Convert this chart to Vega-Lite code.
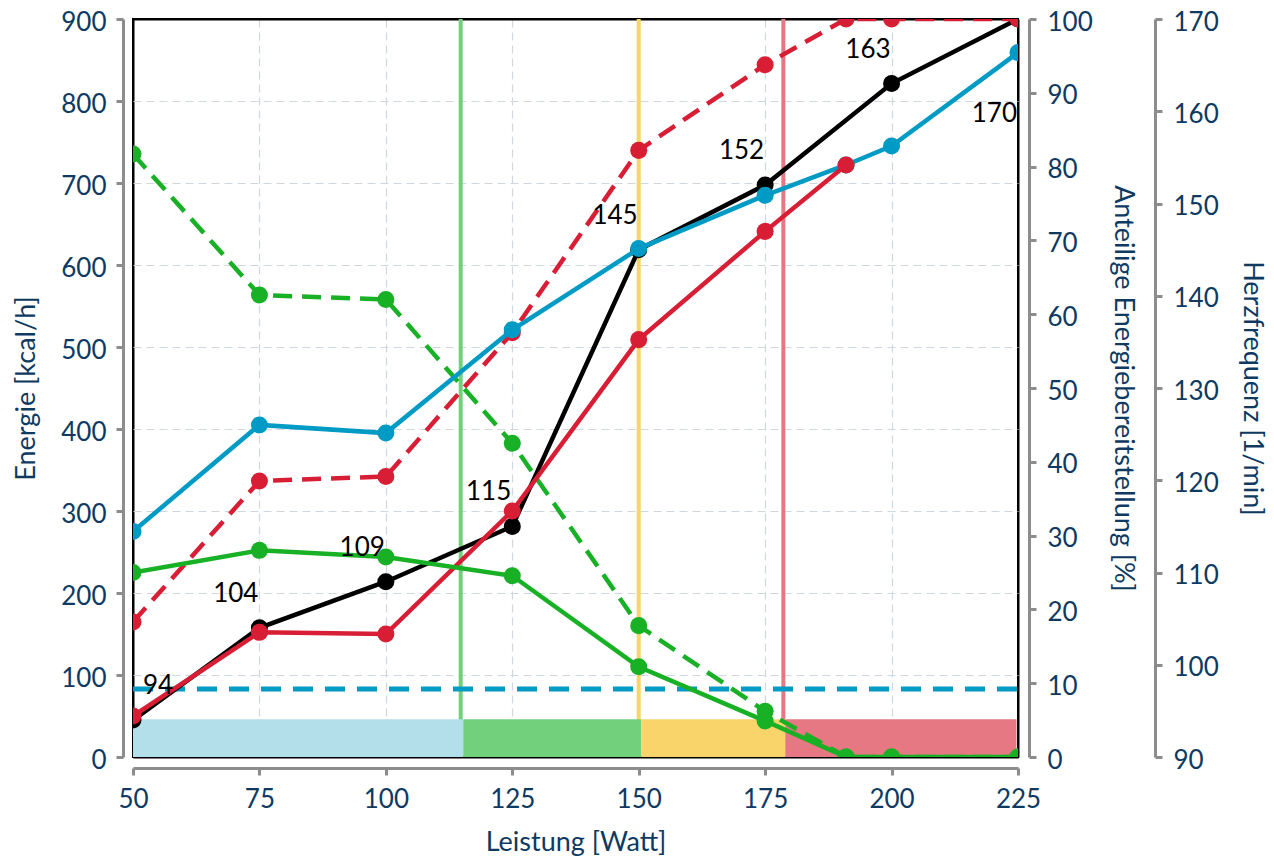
{
  "$schema": "https://vega.github.io/schema/vega-lite/v6.json",
  "width": 885,
  "height": 738,
  "autosize": {"type": "none"},
  "padding": {"left": 133, "top": 19, "right": 256, "bottom": 104},
  "background": "white",
  "config": {
    "view": {"stroke": "black", "strokeWidth": 2},
    "font": "Lato",
    "axis": {
      "domainColor": "#8c8c8c", "domainWidth": 3,
      "tickColor": "#8c8c8c", "tickWidth": 3, "tickSize": 7,
      "labelFont": "Lato", "labelFontSize": 26, "labelColor": "#0e3a62",
      "titleFont": "Lato", "titleFontSize": 27, "titleColor": "#0e3a62", "titleFontWeight": "normal",
      "gridColor": "#cfd7e1", "gridDash": [8, 5], "gridWidth": 1.2,
      "labelOverlap": false, "labelFlush": false
    }
  },
  "datasets": {
    "energie": [
      {"w": 50, "gesamt": 275, "kh": 50, "fett": 225},
      {"w": 75, "gesamt": 405, "kh": 152, "fett": 252},
      {"w": 100, "gesamt": 395, "kh": 150, "fett": 244},
      {"w": 125, "gesamt": 521, "kh": 300, "fett": 221},
      {"w": 150, "gesamt": 620, "kh": 509, "fett": 110},
      {"w": 175, "gesamt": 685, "kh": 641, "fett": 44},
      {"w": 191, "gesamt": 722, "kh": 722, "fett": 0},
      {"w": 200, "gesamt": 745, "kh": null, "fett": 0},
      {"w": 225, "gesamt": 859, "kh": null, "fett": 0}
    ],
    "anteil": [
      {"w": 50, "kh_pct": 18.3, "fett_pct": 81.7},
      {"w": 75, "kh_pct": 37.4, "fett_pct": 62.6},
      {"w": 100, "kh_pct": 38.0, "fett_pct": 62.0},
      {"w": 125, "kh_pct": 57.5, "fett_pct": 42.5},
      {"w": 150, "kh_pct": 82.2, "fett_pct": 17.8},
      {"w": 175, "kh_pct": 93.8, "fett_pct": 6.2},
      {"w": 191, "kh_pct": 100, "fett_pct": 0},
      {"w": 200, "kh_pct": 100, "fett_pct": 0},
      {"w": 225, "kh_pct": 100, "fett_pct": 0}
    ],
    "hf": [
      {"w": 50, "hf": 94},
      {"w": 75, "hf": 104},
      {"w": 100, "hf": 109},
      {"w": 125, "hf": 115},
      {"w": 150, "hf": 145},
      {"w": 175, "hf": 152},
      {"w": 200, "hf": 163},
      {"w": 225, "hf": 170}
    ],
    "zonen": [
      {"w": 50, "w2": 115.3, "zone": "1"},
      {"w": 115.3, "w2": 150.5, "zone": "2"},
      {"w": 150.5, "w2": 179, "zone": "3"},
      {"w": 179, "w2": 224.7, "zone": "4"}
    ],
    "schwellen": [
      {"w": 114.8, "zone": "2"},
      {"w": 150, "zone": "3"},
      {"w": 178.6, "zone": "4"}
    ],
    "grund": [
      {"w": 50, "w2": 225, "kcal": 83}
    ]
  },
  "resolve": {"scale": {"y": "independent"}},
  "encoding": {
    "x": {
      "field": "w", "type": "quantitative",
      "scale": {"domain": [50, 225], "nice": false, "zero": false},
      "axis": {
        "values": [50, 75, 100, 125, 150, 175, 200, 225], "offset": 11, "labelPadding": 11, "titlePadding": 17, "title": "Leistung [Watt]", "grid": true,
        "gridColor": {"condition": {"test": "datum.value == 50 || datum.value == 225", "value": "black"}, "value": "#cfd7e1"},
        "gridDash": {"condition": {"test": "datum.value == 50 || datum.value == 225", "value": [1, 0]}, "value": [8, 5]},
        "gridWidth": {"condition": {"test": "datum.value == 50 || datum.value == 225", "value": 2}, "value": 1.2}
      }
    }
  },
  "layer": [
    {
      "data": {"name": "schwellen"},
      "mark": {"type": "rule", "strokeWidth": 4, "clip": true},
      "encoding": {
        "color": {"field": "zone", "type": "nominal", "scale": {"domain": ["1", "2", "3", "4"], "range": ["#b2dfea", "#72d07c", "#f8d46a", "#e57882"]}, "legend": null}
      }
    },
    {
      "data": {"name": "zonen"},
      "mark": {"type": "rect", "clip": true},
      "encoding": {
        "x2": {"field": "w2"},
        "y": {"datum": 0, "type": "quantitative", "scale": {"domain": [0, 900], "nice": false}, "axis": null},
        "y2": {"datum": 46},
        "color": {"field": "zone", "type": "nominal", "scale": {"domain": ["1", "2", "3", "4"], "range": ["#b2dfea", "#72d07c", "#f8d46a", "#e57882"]}, "legend": null}
      }
    },
    {
      "data": {"name": "grund"},
      "mark": {"type": "rule", "strokeWidth": 5, "strokeDash": [20, 12], "color": "#009bc4", "clip": true},
      "encoding": {
        "x2": {"field": "w2"},
        "y": {"field": "kcal", "type": "quantitative", "scale": {"domain": [0, 900], "nice": false}, "axis": null}
      }
    },
    {
      "data": {"name": "hf"},
      "encoding": {
        "y": {"field": "hf", "type": "quantitative", "scale": {"domain": [90, 170], "nice": false, "zero": false},
          "axis": {"orient": "right", "offset": 137, "values": [90, 100, 110, 120, 130, 140, 150, 160, 170], "title": "Herzfrequenz [1/min]", "grid": false, "labelPadding": 11, "titlePadding": 19, "labelOffset": 3}}
      },
      "layer": [
        {"mark": {"type": "line", "strokeWidth": 4.5, "color": "black", "clip": true}},
        {"mark": {"type": "point", "filled": true, "opacity": 1, "size": 290, "color": "black", "clip": true}}
      ]
    },
    {
      "data": {"name": "anteil"},
      "encoding": {
        "y": {"field": "kh_pct", "type": "quantitative", "scale": {"domain": [0, 100], "nice": false},
          "axis": {"orient": "right", "offset": 11, "values": [0, 10, 20, 30, 40, 50, 60, 70, 80, 90, 100], "title": "Anteilige Energiebereitstellung [%]", "grid": false, "labelPadding": 11, "titlePadding": 16, "labelOffset": 3}}
      },
      "layer": [
        {"mark": {"type": "line", "strokeWidth": 4.5, "strokeDash": [19, 10], "color": "#d81e35", "clip": true}},
        {"mark": {"type": "point", "filled": true, "opacity": 1, "size": 290, "color": "#d81e35", "clip": true}}
      ]
    },
    {
      "data": {"name": "anteil"},
      "encoding": {
        "y": {"field": "fett_pct", "type": "quantitative", "scale": {"domain": [0, 100], "nice": false}, "axis": null}
      },
      "layer": [
        {"mark": {"type": "line", "strokeWidth": 4.5, "strokeDash": [19, 10], "color": "#18b025", "clip": true}},
        {"mark": {"type": "point", "filled": true, "opacity": 1, "size": 290, "color": "#18b025", "clip": true}}
      ]
    },
    {
      "data": {"name": "energie"},
      "encoding": {
        "y": {"field": "gesamt", "type": "quantitative", "scale": {"domain": [0, 900], "nice": false},
          "axis": {"orient": "left", "offset": 10, "values": [0, 100, 200, 300, 400, 500, 600, 700, 800, 900], "title": "Energie [kcal/h]", "grid": true, "labelPadding": 10, "titlePadding": 20, "labelOffset": 3,
            "gridColor": {"condition": {"test": "datum.value == 0 || datum.value == 900", "value": "black"}, "value": "#cfd7e1"},
            "gridDash": {"condition": {"test": "datum.value == 0 || datum.value == 900", "value": [1, 0]}, "value": [8, 5]},
            "gridWidth": {"condition": {"test": "datum.value == 0 || datum.value == 900", "value": 2}, "value": 1.2}}}
      },
      "layer": [
        {"mark": {"type": "line", "strokeWidth": 4.5, "color": "#009bc4", "clip": true}},
        {"mark": {"type": "point", "filled": true, "opacity": 1, "size": 290, "color": "#009bc4", "clip": true}}
      ]
    },
    {
      "data": {"name": "energie"},
      "encoding": {
        "y": {"field": "kh", "type": "quantitative", "scale": {"domain": [0, 900], "nice": false}, "axis": null}
      },
      "layer": [
        {"mark": {"type": "line", "strokeWidth": 4.5, "color": "#d81e35", "clip": true}},
        {"mark": {"type": "point", "filled": true, "opacity": 1, "size": 290, "color": "#d81e35", "clip": true}}
      ]
    },
    {
      "data": {"name": "energie"},
      "encoding": {
        "y": {"field": "fett", "type": "quantitative", "scale": {"domain": [0, 900], "nice": false}, "axis": null}
      },
      "layer": [
        {"mark": {"type": "line", "strokeWidth": 4.5, "color": "#18b025", "clip": true}},
        {"mark": {"type": "point", "filled": true, "opacity": 1, "size": 290, "color": "#18b025", "clip": true}}
      ]
    },
    {
      "data": {"name": "hf"},
      "transform": [{"filter": "datum.hf > 94 && datum.hf < 170"}],
      "mark": {"type": "text", "align": "right", "baseline": "alphabetic", "dx": -1, "dy": -26, "fontSize": 26, "font": "Lato", "color": "black"},
      "encoding": {
        "y": {"field": "hf", "type": "quantitative", "scale": {"domain": [90, 170], "nice": false, "zero": false}, "axis": null},
        "text": {"field": "hf", "type": "quantitative"}
      }
    },
    {
      "data": {"name": "hf"},
      "transform": [{"filter": "datum.hf == 94"}],
      "mark": {"type": "text", "align": "left", "baseline": "alphabetic", "dx": 10, "dy": -26, "fontSize": 26, "font": "Lato", "color": "black"},
      "encoding": {
        "y": {"field": "hf", "type": "quantitative", "scale": {"domain": [90, 170], "nice": false, "zero": false}, "axis": null},
        "text": {"field": "hf", "type": "quantitative"}
      }
    },
    {
      "data": {"name": "hf"},
      "transform": [{"filter": "datum.hf == 170"}],
      "mark": {"type": "text", "align": "right", "baseline": "alphabetic", "dx": -1, "dy": 103, "fontSize": 26, "font": "Lato", "color": "black"},
      "encoding": {
        "y": {"field": "hf", "type": "quantitative", "scale": {"domain": [90, 170], "nice": false, "zero": false}, "axis": null},
        "text": {"field": "hf", "type": "quantitative"}
      }
    }
  ]
}
